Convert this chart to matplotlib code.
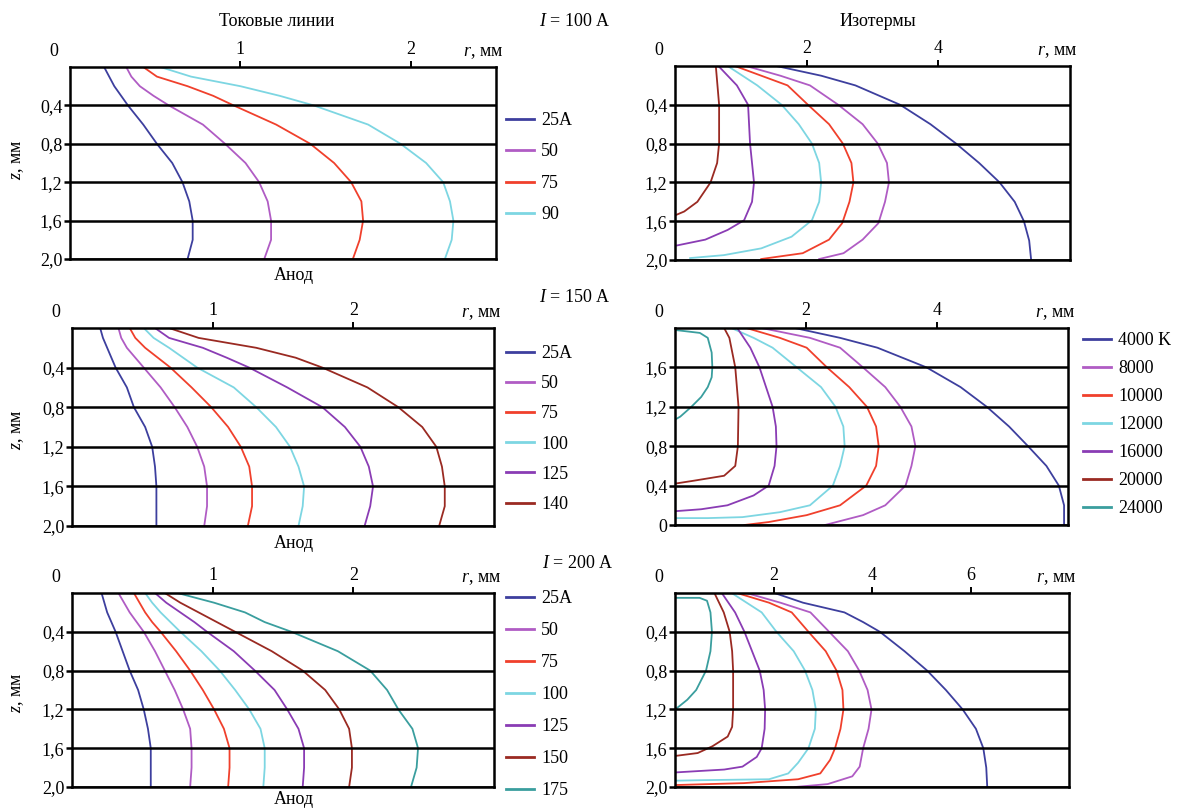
import matplotlib
matplotlib.use("Agg")
import matplotlib.pyplot as plt

plt.rcParams['font.family'] = ['Liberation Serif', 'DejaVu Serif']
plt.rcParams['font.size'] = 13
plt.rcParams['mathtext.fontset'] = 'custom'
plt.rcParams['mathtext.rm'] = 'Liberation Serif'
plt.rcParams['mathtext.it'] = 'Liberation Serif:italic'

# colours
NAVY = '#3d3f9e'
LPURP = '#b05cc4'
RED = '#f0402c'
CYAN = '#7dd6e2'
PURP = '#8a3cb4'
DRED = '#9a2a22'
TEAL = '#3a9e9e'

# ---- current lines (r, mm) sampled along depth z, mm ----
z_cur = [0, 0.1, 0.2, 0.3, 0.4, 0.6, 0.8, 1.0, 1.2, 1.4, 1.6, 1.8, 2.0]

cur100_labels = ['25A', '50', '75', '90']
cur100_colors = [NAVY, LPURP, RED, CYAN]
cur100 = [
    [0.20, 0.23, 0.26, 0.30, 0.34, 0.43, 0.51, 0.60, 0.66, 0.70, 0.72, 0.72, 0.69],
    [0.33, 0.36, 0.41, 0.49, 0.58, 0.78, 0.91, 1.03, 1.11, 1.16, 1.18, 1.18, 1.14],
    [0.43, 0.51, 0.69, 0.84, 0.96, 1.21, 1.41, 1.55, 1.65, 1.71, 1.72, 1.70, 1.66],
    [0.53, 0.71, 1.00, 1.23, 1.43, 1.75, 1.94, 2.09, 2.19, 2.23, 2.25, 2.24, 2.20],
]

cur150_labels = ['25A', '50', '75', '100', '125', '140']
cur150_colors = [NAVY, LPURP, RED, CYAN, PURP, DRED]
cur150 = [
    [0.20, 0.22, 0.25, 0.28, 0.31, 0.39, 0.44, 0.52, 0.57, 0.59, 0.60, 0.60, 0.60],
    [0.33, 0.35, 0.39, 0.45, 0.51, 0.63, 0.73, 0.82, 0.89, 0.94, 0.96, 0.96, 0.94],
    [0.41, 0.45, 0.52, 0.61, 0.70, 0.85, 0.99, 1.11, 1.20, 1.26, 1.28, 1.28, 1.25],
    [0.51, 0.58, 0.69, 0.79, 0.89, 1.15, 1.31, 1.45, 1.55, 1.61, 1.65, 1.64, 1.61],
    [0.59, 0.69, 0.93, 1.10, 1.26, 1.53, 1.78, 1.94, 2.05, 2.11, 2.14, 2.12, 2.08],
    [0.69, 0.90, 1.31, 1.59, 1.78, 2.10, 2.32, 2.49, 2.59, 2.63, 2.65, 2.65, 2.61],
]

cur200_labels = ['25A', '50', '75', '100', '125', '150', '175']
cur200_colors = [NAVY, LPURP, RED, CYAN, PURP, DRED, TEAL]
cur200 = [
    [0.21, 0.23, 0.25, 0.28, 0.31, 0.36, 0.41, 0.47, 0.51, 0.54, 0.56, 0.56, 0.56],
    [0.33, 0.37, 0.41, 0.46, 0.51, 0.59, 0.66, 0.73, 0.79, 0.84, 0.85, 0.85, 0.84],
    [0.44, 0.48, 0.52, 0.57, 0.63, 0.74, 0.84, 0.93, 1.01, 1.08, 1.12, 1.12, 1.11],
    [0.52, 0.57, 0.63, 0.70, 0.77, 0.92, 1.05, 1.16, 1.26, 1.34, 1.37, 1.37, 1.36],
    [0.59, 0.67, 0.77, 0.87, 0.96, 1.15, 1.30, 1.44, 1.53, 1.61, 1.65, 1.65, 1.64],
    [0.66, 0.77, 0.90, 1.03, 1.16, 1.42, 1.64, 1.80, 1.90, 1.97, 1.99, 1.99, 1.97],
    [0.75, 1.01, 1.23, 1.37, 1.56, 1.89, 2.12, 2.24, 2.32, 2.42, 2.46, 2.45, 2.41],
]

# ---- isotherms ----
iso_labels = ['4000 K', '8000', '10000', '12000', '16000', '20000', '24000']
iso_colors = [NAVY, LPURP, RED, CYAN, PURP, DRED, TEAL]

# I = 100 A (z = depth)
iso100_z = [
    [0, 0.1, 0.2, 0.4, 0.6, 0.8, 1.0, 1.2, 1.4, 1.6, 1.8, 2.0],
    [0, 0.1, 0.2, 0.4, 0.6, 0.8, 1.0, 1.2, 1.4, 1.62, 1.79, 1.93, 1.99],
    [0, 0.1, 0.2, 0.4, 0.6, 0.8, 1.0, 1.2, 1.4, 1.62, 1.79, 1.93, 1.99],
    [0, 0.2, 0.4, 0.6, 0.8, 1.0, 1.2, 1.4, 1.59, 1.76, 1.88, 1.95, 1.98],
    [0, 0.2, 0.4, 0.8, 1.2, 1.4, 1.59, 1.69, 1.79, 1.85],
    [0, 0.4, 0.8, 1.0, 1.2, 1.4, 1.5, 1.54],
]
iso100_r = [
    [1.54, 2.22, 2.74, 3.42, 3.88, 4.27, 4.62, 4.93, 5.16, 5.30, 5.38, 5.41],
    [1.08, 1.60, 2.05, 2.48, 2.85, 3.08, 3.22, 3.25, 3.19, 3.09, 2.85, 2.56, 2.19],
    [0.91, 1.31, 1.71, 2.02, 2.34, 2.55, 2.68, 2.71, 2.65, 2.54, 2.34, 1.94, 1.31],
    [0.80, 1.25, 1.62, 1.88, 2.08, 2.19, 2.22, 2.19, 2.08, 1.77, 1.31, 0.74, 0.23],
    [0.66, 0.94, 1.11, 1.14, 1.20, 1.17, 1.05, 0.80, 0.46, 0.03],
    [0.62, 0.67, 0.67, 0.64, 0.54, 0.34, 0.14, 0.0],
]

# I = 150 A (z read against the upward axis of that panel)
iso150_z = [
    [2.0, 1.9, 1.8, 1.6, 1.4, 1.2, 1.0, 0.8, 0.6, 0.4, 0.2, 0.0],
    [2.0, 1.9, 1.8, 1.6, 1.4, 1.2, 1.0, 0.8, 0.6, 0.4, 0.2, 0.1, 0.0],
    [2.0, 1.9, 1.8, 1.6, 1.4, 1.2, 1.0, 0.8, 0.6, 0.4, 0.2, 0.1, 0.03, 0.0],
    [2.0, 1.9, 1.8, 1.6, 1.4, 1.2, 1.0, 0.8, 0.6, 0.4, 0.2, 0.13, 0.08, 0.07, 0.07],
    [2.0, 1.8, 1.6, 1.2, 1.0, 0.8, 0.6, 0.4, 0.3, 0.2, 0.16, 0.14],
    [2.0, 1.9, 1.6, 1.2, 0.8, 0.6, 0.5, 0.45, 0.42],
    [1.98, 1.95, 1.9, 1.75, 1.6, 1.5, 1.4, 1.3, 1.2, 1.1, 1.07],
]
iso150_r = [
    [1.83, 2.52, 3.09, 3.84, 4.36, 4.76, 5.10, 5.39, 5.67, 5.86, 5.94, 5.94],
    [1.32, 2.06, 2.52, 2.87, 3.21, 3.44, 3.61, 3.67, 3.61, 3.52, 3.21, 2.87, 2.29],
    [1.09, 1.60, 2.01, 2.32, 2.66, 2.93, 3.07, 3.11, 3.07, 2.92, 2.52, 2.01, 1.43, 1.06],
    [0.86, 1.20, 1.49, 1.86, 2.23, 2.45, 2.57, 2.59, 2.52, 2.41, 2.06, 1.60, 1.03, 0.50, 0.0],
    [0.95, 1.15, 1.29, 1.49, 1.54, 1.55, 1.52, 1.43, 1.20, 0.80, 0.40, 0.0],
    [0.75, 0.83, 0.92, 0.97, 0.96, 0.92, 0.75, 0.29, 0.0],
    [0.0, 0.38, 0.50, 0.56, 0.57, 0.56, 0.50, 0.40, 0.25, 0.08, 0.0],
]

# I = 200 A (z = depth)
iso200_z = [
    [0, 0.1, 0.2, 0.3, 0.4, 0.6, 0.8, 1.0, 1.2, 1.4, 1.6, 1.8, 2.0],
    [0, 0.1, 0.2, 0.4, 0.6, 0.8, 1.0, 1.2, 1.4, 1.6, 1.79, 1.89, 1.97, 2.0],
    [0, 0.1, 0.2, 0.4, 0.6, 0.8, 1.0, 1.2, 1.4, 1.6, 1.72, 1.86, 1.92, 1.96, 1.98],
    [0, 0.2, 0.4, 0.6, 0.8, 1.0, 1.2, 1.4, 1.6, 1.75, 1.86, 1.92, 1.93, 1.935],
    [0, 0.2, 0.4, 0.8, 1.0, 1.2, 1.4, 1.6, 1.69, 1.79, 1.82, 1.85],
    [0, 0.2, 0.4, 0.6, 0.8, 1.2, 1.38, 1.48, 1.58, 1.65, 1.68],
    [0.05, 0.05, 0.08, 0.2, 0.4, 0.6, 0.8, 1.0, 1.1, 1.17, 1.2],
]
iso200_r = [
    [2.02, 2.60, 3.44, 3.82, 4.16, 4.66, 5.12, 5.50, 5.84, 6.11, 6.26, 6.32, 6.34],
    [1.45, 2.14, 2.75, 3.13, 3.51, 3.74, 3.91, 3.99, 3.93, 3.82, 3.75, 3.60, 3.10, 2.44],
    [1.26, 1.91, 2.37, 2.71, 3.06, 3.28, 3.40, 3.42, 3.36, 3.25, 3.15, 2.95, 2.50, 1.40, 0.0],
    [1.15, 1.76, 2.06, 2.41, 2.64, 2.79, 2.86, 2.84, 2.71, 2.50, 2.30, 1.91, 0.50, 0.0],
    [0.95, 1.22, 1.41, 1.72, 1.80, 1.83, 1.82, 1.76, 1.66, 1.37, 1.00, 0.0],
    [0.80, 0.99, 1.11, 1.16, 1.18, 1.18, 1.16, 1.07, 0.76, 0.46, 0.0],
    [0.0, 0.50, 0.65, 0.72, 0.75, 0.72, 0.63, 0.43, 0.25, 0.08, 0.0],
]

depth_ticks = [0.4, 0.8, 1.2, 1.6, 2.0]
depth_labels = ['0,4', '0,8', '1,2', '1,6', '2,0']
up_ticks = [0, 0.4, 0.8, 1.2, 1.6]
up_labels = ['0', '0,4', '0,8', '1,2', '1,6']

W, H = 1190, 809
fig = plt.figure(figsize=(W / 100, H / 100), dpi=100)


def make_ax(l, t, r, b):
    return fig.add_axes([l / W, 1 - b / H, (r - l) / W, (b - t) / H])


def style(ax, xmax, xticks, yticks, ylabels, ylim):
    ax.set_xlim(0, xmax)
    ax.set_ylim(*ylim)
    for s in ax.spines.values():
        s.set_linewidth(1.8)
        s.set_color('black')
    ax.xaxis.tick_top()
    ax.set_xticks(xticks, [str(t) for t in xticks])
    ax.tick_params(axis='x', direction='out', length=4, width=1.4, pad=2.5, labelsize=13)
    ax.set_yticks(yticks, ylabels)
    ax.tick_params(axis='y', direction='out', length=4, width=1.8, pad=1.5, labelsize=13)
    ax.yaxis.grid(True, color='black', lw=1.8)
    ax.set_axisbelow(False)
    ax.annotate('0', xy=(0, 1), xycoords='axes fraction', xytext=(-16, 11),
                textcoords='offset pixels', ha='center', va='baseline')
    ax.annotate('$r$, мм', xy=(1, 1), xycoords='axes fraction', xytext=(-13, 11),
                textcoords='offset pixels', ha='center', va='baseline')


def add_legend(ax, labels, colors, x, y, spacing):
    handles = [plt.Line2D([], [], color=c, lw=2) for c in colors]
    ax.legend(handles, labels, loc='upper left', bbox_to_anchor=(x / W, 1 - y / H),
              bbox_transform=fig.transFigure, frameon=False, handlelength=1.55,
              handletextpad=0.4, labelspacing=spacing, borderpad=0, borderaxespad=0,
              fontsize=13)


# current-line panels
cur_sets = [
    ((70, 67, 496, 259), 2.5, cur100, cur100_colors, cur100_labels, 112, 0.80, 160, -17),
    ((72, 328, 494, 526), 3.0, cur150, cur150_colors, cur150_labels, 345, 0.73, 430, -17),
    ((72, 593, 494, 787), 3.0, cur200, cur200_colors, cur200_labels, 590, 0.83, 693, -12),
]
for box, xmax, curves, colors, labels, ly, lsp, zy, ay in cur_sets:
    ax = make_ax(*box)
    for r, c in zip(curves, colors):
        ax.plot(r, z_cur, color=c, lw=1.3)
    style(ax, xmax, [1, 2], depth_ticks, depth_labels, (2, 0))
    add_legend(ax, labels, colors, 506, ly, lsp)
    ax.annotate('Анод', xy=(0.525, 0), xycoords='axes fraction', xytext=(0, ay),
                textcoords='offset pixels', ha='center', va='center')
    fig.text(17 / W, 1 - zy / H, '$z$, мм', rotation=90, ha='center', va='center')

# isotherm panels
ax = make_ax(675, 66, 1070, 260)
for r, z, c in zip(iso100_r, iso100_z, iso_colors):
    ax.plot(r, z, color=c, lw=1.3)
style(ax, 6, [2, 4], depth_ticks, depth_labels, (2, 0))

ax = make_ax(675, 328, 1068, 525)
for r, z, c in zip(iso150_r, iso150_z, iso_colors):
    ax.plot(r, z, color=c, lw=1.3)
style(ax, 6, [2, 4], up_ticks, up_labels, (0, 2))
add_legend(ax, iso_labels, iso_colors, 1083, 332, 0.61)

ax = make_ax(675, 593, 1069, 787)
for r, z, c in zip(iso200_r, iso200_z, iso_colors):
    ax.plot(r, z, color=c, lw=1.3)
style(ax, 8, [2, 4, 6], depth_ticks, depth_labels, (2, 0))

# headings
fig.text(277 / W, 1 - 22 / H, 'Токовые линии', ha='center', va='center')
fig.text(878 / W, 1 - 22 / H, 'Изотермы', ha='center', va='center')
fig.text(575 / W, 1 - 22 / H, '$I$ = 100 A', ha='center', va='center')
fig.text(575 / W, 1 - 297 / H, '$I$ = 150 A', ha='center', va='center')
fig.text(578 / W, 1 - 563 / H, '$I$ = 200 A', ha='center', va='center')

fig.savefig('out.png', dpi=100)
